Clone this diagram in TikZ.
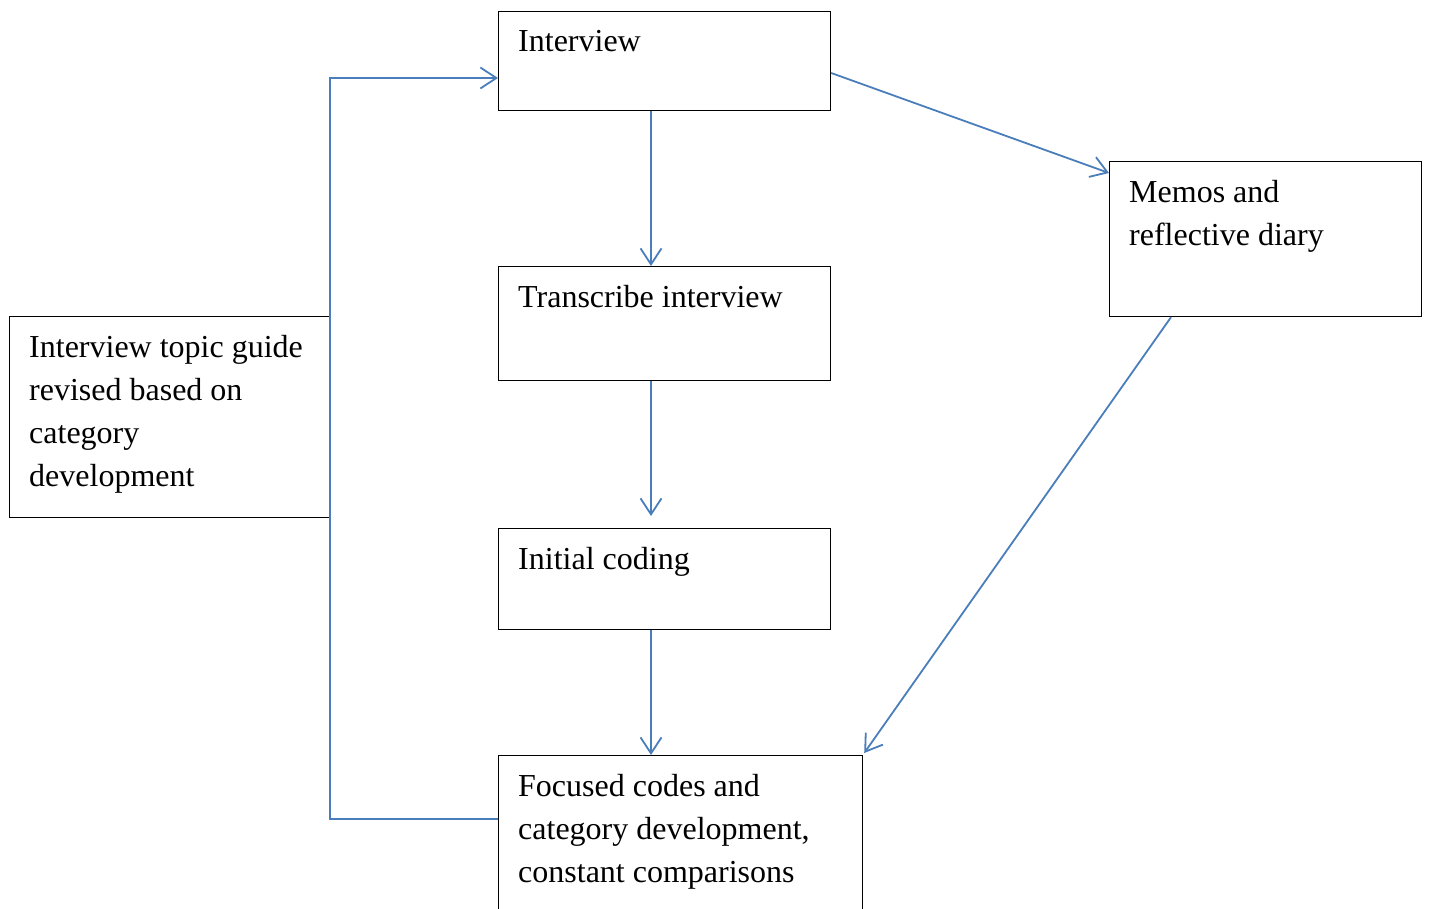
\documentclass[tikz,border=0pt]{standalone}
\usepackage{fontspec}
\setmainfont{Liberation Serif}
\usetikzlibrary{arrows.meta,calc}
\definecolor{conn}{HTML}{4A7EBB}
\begin{document}
\begin{tikzpicture}[x=1pt,y=-1pt,
  box/.style={draw=black,line width=1.2pt,anchor=north west,inner sep=0pt},
  lbl/.style={anchor=north west,inner sep=0pt,align=left,font=\fontsize{32}{43}\selectfont},
  arr/.style={draw=conn,line width=1.8pt,-{Straight Barb[length=16pt,width=21pt,line width=1.8pt]}},
  ln/.style={draw=conn,line width=1.8pt}]
\useasboundingbox (0,0) rectangle (1429,909);
\begin{scope}
\clip (0,0) rectangle (1429,909);
\node[box,minimum width=332pt,minimum height=99pt] (int) at (498,11) {};
\node[box,minimum width=332pt,minimum height=114pt] (tra) at (498,266) {};
\node[box,minimum width=332pt,minimum height=101pt] (ini) at (498,528) {};
\node[box,minimum width=364pt,minimum height=220pt] (foc) at (498,755) {};
\node[box,minimum width=312pt,minimum height=155pt] (mem) at (1109,161) {};
\node[box,minimum width=320pt,minimum height=201pt] (gui) at (9,316) {};

\node[lbl] (tint) at ([xshift=20pt,yshift=-19pt]int.north west) {Interview};
\node[lbl] (ttra) at ([xshift=20pt,yshift=-19pt]tra.north west) {Transcribe interview};
\node[lbl] (tini) at ([xshift=20pt,yshift=-19pt]ini.north west) {Initial coding};
\node[lbl] (tfoc) at ([xshift=20pt,yshift=-19pt]foc.north west) {Focused codes and\\category development,\\constant comparisons};
\node[lbl] (tmem) at ([xshift=20pt,yshift=-19pt]mem.north west) {Memos and\\reflective diary};
\node[lbl] (tgui) at ([xshift=20pt,yshift=-19pt]gui.north west) {Interview topic guide\\revised based on\\category\\development};

\coordinate (cx) at (651,0);
\coordinate (iniTop) at ([yshift=12pt]ini.north);
\coordinate (intOut) at ([yshift=-62pt]int.north east);
\coordinate (memIn) at ([yshift=-12pt]mem.north west);
\coordinate (memOut) at ([xshift=62pt]mem.south west);
\coordinate (fb) at ([yshift=-64pt]foc.north west);
\coordinate (intIn) at ([yshift=-67pt]int.north west);

\draw[arr] (int.south -| cx) -- (tra.north -| cx);
\draw[arr] (tra.south -| cx) -- (iniTop -| cx);
\draw[arr] (ini.south -| cx) -- (foc.north -| cx);
\draw[arr] (intOut) -- (memIn);
\draw[arr] (memOut) -- ([xshift=1pt,yshift=2pt]foc.north east);
\draw[arr] (fb) -- (fb -| gui.east) |- (intIn);
\end{scope}
\end{tikzpicture}
\end{document}
